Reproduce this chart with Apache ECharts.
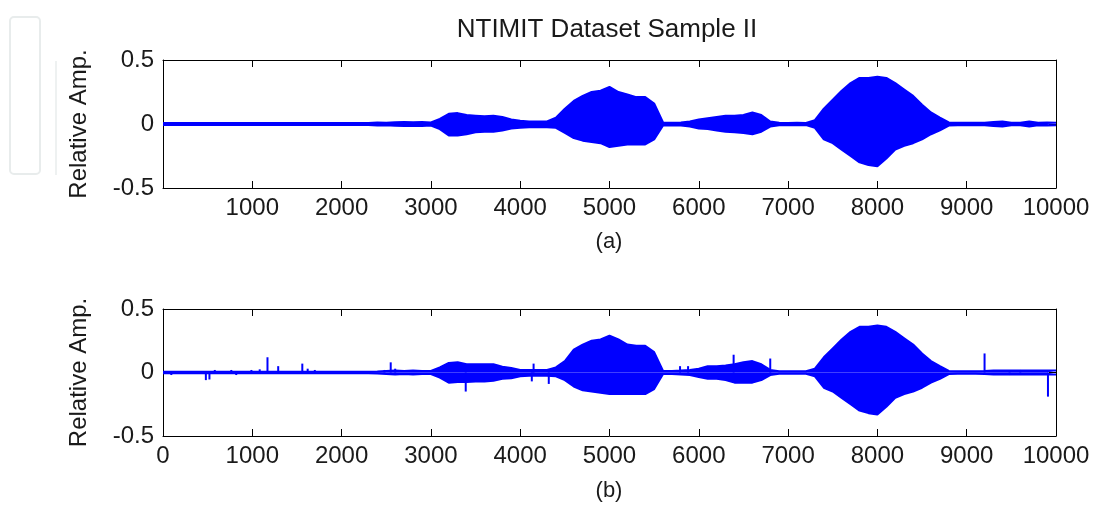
<!DOCTYPE html>
<html>
<head>
<meta charset="utf-8">
<title>NTIMIT Dataset Sample II</title>
<script src="https://cdn.jsdelivr.net/npm/echarts@6/dist/echarts.min.js"></script>
<style>
  html, body { margin: 0; padding: 0; background: #fff; }
  #chart { width: 1098px; height: 508px; }
</style>
</head>
<body>
<div id="chart"></div>
<script>
// sample positions of the envelope (every 100 samples)
const samplePos = Array.from({ length: 101 }, (_, i) => i * 100)

// (a) upper / lower envelope
const envAHi = [
  0.008, 0.008, 0.008, 0.008, 0.008, 0.008, 0.008, 0.008, 0.008, 0.008, 0.008,
  0.008, 0.008, 0.008, 0.008, 0.008, 0.008, 0.008, 0.008, 0.008, 0.008,
  0.008, 0.008, 0.008, 0.012, 0.010, 0.014, 0.016, 0.014, 0.016, 0.012,
  0.040, 0.080, 0.085, 0.070, 0.065, 0.060, 0.065, 0.055, 0.035, 0.025,
  0.020, 0.020, 0.020, 0.050, 0.120, 0.180, 0.220, 0.250, 0.260, 0.290,
  0.250, 0.230, 0.210, 0.210, 0.160, 0.012, 0.010, 0.012, 0.020, 0.035,
  0.045, 0.055, 0.065, 0.065, 0.070, 0.090, 0.070, 0.020, 0.010, 0.008,
  0.010, 0.008, 0.030, 0.120, 0.190, 0.260, 0.320, 0.360, 0.360, 0.370,
  0.360, 0.320, 0.270, 0.220, 0.150, 0.090, 0.050, 0.012, 0.010, 0.010,
  0.010, 0.010, 0.015, 0.020, 0.010, 0.010, 0.020, 0.010, 0.012, 0.010
]
const envALo = [
  -0.008, -0.008, -0.008, -0.008, -0.008, -0.008, -0.008, -0.008, -0.008, -0.008, -0.008,
  -0.008, -0.008, -0.008, -0.008, -0.008, -0.008, -0.008, -0.008, -0.008, -0.008,
  -0.008, -0.008, -0.008, -0.012, -0.010, -0.014, -0.016, -0.014, -0.016, -0.012,
  -0.040, -0.090, -0.090, -0.080, -0.065, -0.060, -0.060, -0.050, -0.035, -0.030,
  -0.025, -0.025, -0.025, -0.030, -0.070, -0.110, -0.130, -0.140, -0.150, -0.180,
  -0.170, -0.160, -0.160, -0.160, -0.120, -0.012, -0.010, -0.012, -0.020, -0.035,
  -0.040, -0.050, -0.060, -0.065, -0.070, -0.080, -0.060, -0.020, -0.010, -0.008,
  -0.010, -0.008, -0.030, -0.120, -0.150, -0.200, -0.250, -0.300, -0.320, -0.330,
  -0.270, -0.200, -0.170, -0.150, -0.120, -0.080, -0.050, -0.012, -0.010, -0.010,
  -0.010, -0.010, -0.015, -0.020, -0.010, -0.010, -0.020, -0.010, -0.012, -0.010
]

// (b) upper / lower envelope
const envBHi = [
  0.006, 0.006, 0.006, 0.006, 0.006, 0.006, 0.006, 0.006, 0.006, 0.006, 0.006,
  0.006, 0.006, 0.006, 0.006, 0.006, 0.006, 0.006, 0.006, 0.006, 0.006,
  0.006, 0.006, 0.006, 0.008, 0.012, 0.015, 0.012, 0.015, 0.012, 0.012,
  0.040, 0.075, 0.080, 0.065, 0.065, 0.065, 0.065, 0.045, 0.035, 0.020,
  0.020, 0.020, 0.020, 0.040, 0.090, 0.180, 0.220, 0.250, 0.260, 0.290,
  0.260, 0.220, 0.210, 0.210, 0.160, 0.012, 0.012, 0.015, 0.020, 0.030,
  0.050, 0.050, 0.055, 0.065, 0.080, 0.090, 0.065, 0.020, 0.010, 0.010,
  0.010, 0.010, 0.030, 0.120, 0.190, 0.260, 0.320, 0.360, 0.360, 0.370,
  0.360, 0.320, 0.270, 0.220, 0.150, 0.090, 0.050, 0.012, 0.010, 0.010,
  0.010, 0.012, 0.015, 0.015, 0.015, 0.015, 0.015, 0.015, 0.015, 0.015
]
const envBLo = [
  -0.006, -0.006, -0.006, -0.006, -0.006, -0.006, -0.006, -0.006, -0.006, -0.006, -0.006,
  -0.006, -0.006, -0.006, -0.006, -0.006, -0.006, -0.006, -0.006, -0.006, -0.006,
  -0.006, -0.006, -0.006, -0.008, -0.012, -0.015, -0.012, -0.015, -0.012, -0.012,
  -0.040, -0.080, -0.075, -0.075, -0.070, -0.070, -0.065, -0.050, -0.045, -0.030,
  -0.025, -0.025, -0.025, -0.030, -0.060, -0.110, -0.140, -0.150, -0.160, -0.170,
  -0.170, -0.170, -0.170, -0.170, -0.130, -0.012, -0.012, -0.015, -0.020, -0.035,
  -0.050, -0.050, -0.060, -0.080, -0.080, -0.080, -0.060, -0.020, -0.010, -0.010,
  -0.010, -0.010, -0.030, -0.120, -0.150, -0.200, -0.250, -0.300, -0.320, -0.330,
  -0.270, -0.200, -0.170, -0.150, -0.120, -0.080, -0.050, -0.012, -0.010, -0.010,
  -0.010, -0.012, -0.015, -0.015, -0.015, -0.015, -0.015, -0.015, -0.015, -0.015
]

// (b) isolated noise spikes
const spikeBPos = [93, 480, 520, 580, 765, 820, 990, 1083, 1170, 1290, 1560, 1620, 1700, 2480, 2550, 2600,
  3390, 4130, 4150, 4320, 5790, 5880, 6390, 6800, 9200, 9480, 9600, 9910]
const spikeBVal = [-0.02, -0.06, -0.055, 0.02, 0.02, -0.02, 0.02, 0.025, 0.12, 0.05, 0.07, 0.03, 0.02, 0.02, 0.08, 0.03,
  -0.15, -0.07, 0.07, -0.09, 0.05, 0.05, 0.14, 0.11, 0.15, -0.02, 0.02, -0.19]

const xTicks = { min: 0, max: 10000, interval: 1000 }
const yTicks = { min: -0.5, max: 0.5, interval: 0.5 }

const FONT = 'Liberation Sans, Arial, Helvetica, sans-serif'
const BLUE = '#0000ff'
const INK = '#1a1a1a'

const toPairs = (xs, ys) => xs.map((x, i) => [x, ys[i]])

// MATLAB-like box: inside ticks on every side
const xAxisDef = (gridIndex, position, showLabel, showMin) => ({
  type: 'value',
  gridIndex,
  position,
  ...xTicks,
  axisLine: { show: true, onZero: false, lineStyle: { color: '#000', width: 1 } },
  axisTick: { show: true, inside: true, length: 7, lineStyle: { color: '#000', width: 1 } },
  axisLabel: {
    show: showLabel,
    showMinLabel: showMin,
    color: INK,
    fontSize: 24,
    fontFamily: FONT,
    margin: 8,
    formatter: v => String(v)
  },
  splitLine: { show: false }
})

const yAxisDef = (gridIndex, position, showLabel) => ({
  type: 'value',
  gridIndex,
  position,
  ...yTicks,
  name: showLabel ? 'Relative Amp.' : '',
  nameLocation: 'middle',
  nameRotate: 90,
  nameGap: 72,
  nameTextStyle: { color: INK, fontSize: 24, fontFamily: FONT },
  axisLine: { show: true, onZero: false, lineStyle: { color: '#000', width: 1 } },
  axisTick: { show: true, inside: true, length: 7, lineStyle: { color: '#000', width: 1 } },
  axisLabel: {
    show: showLabel,
    color: INK,
    fontSize: 24,
    fontFamily: FONT,
    margin: 9,
    formatter: v => String(v)
  },
  splitLine: { show: false }
})

const envSeries = (xi, yi, vals) => ({
  type: 'line',
  xAxisIndex: xi,
  yAxisIndex: yi,
  data: toPairs(samplePos, vals),
  showSymbol: false,
  lineStyle: { color: BLUE, width: 2 },
  areaStyle: { color: BLUE, opacity: 1, origin: 0 },
  emphasis: { disabled: true },
  z: 2
})

const chart = echarts.init(document.getElementById('chart'))

chart.setOption({
  animation: false,
  backgroundColor: '#fff',
  grid: [
    { left: 163, top: 60, width: 893, height: 128 },
    { left: 163, top: 309, width: 893, height: 127 }
  ],
  xAxis: [
    xAxisDef(0, 'bottom', true, false),
    xAxisDef(0, 'top', false, false),
    xAxisDef(1, 'bottom', true, true),
    xAxisDef(1, 'top', false, false)
  ],
  yAxis: [
    yAxisDef(0, 'left', true),
    yAxisDef(0, 'right', false),
    yAxisDef(1, 'left', true),
    yAxisDef(1, 'right', false)
  ],
  series: [
    envSeries(0, 0, envAHi),
    envSeries(0, 0, envALo),
    envSeries(2, 2, envBHi),
    envSeries(2, 2, envBLo),
    {
      type: 'bar',
      xAxisIndex: 2,
      yAxisIndex: 2,
      data: toPairs(spikeBPos, spikeBVal),
      barWidth: 2,
      itemStyle: { color: BLUE },
      emphasis: { disabled: true },
      z: 3
    }
  ],
  graphic: [
    {
      type: 'text',
      x: 607,
      y: 17,
      style: { text: 'NTIMIT Dataset Sample II', fill: INK, font: '26px ' + FONT, textAlign: 'center' }
    },
    {
      type: 'text',
      x: 609,
      y: 231,
      style: { text: '(a)', fill: INK, font: '22px ' + FONT, textAlign: 'center' }
    },
    {
      type: 'text',
      x: 609,
      y: 480,
      style: { text: '(b)', fill: INK, font: '22px ' + FONT, textAlign: 'center' }
    },
    // faint leftover frames at the left edge of the screenshot
    {
      type: 'rect',
      shape: { x: 10, y: 17, width: 30, height: 157, r: 4 },
      style: { fill: 'none', stroke: '#e8ecec', lineWidth: 2 }
    },
    {
      type: 'line',
      shape: { x1: 56, y1: 61, x2: 56, y2: 175 },
      style: { stroke: '#eef1f1', lineWidth: 2 }
    }
  ]
})
</script>
</body>
</html>
